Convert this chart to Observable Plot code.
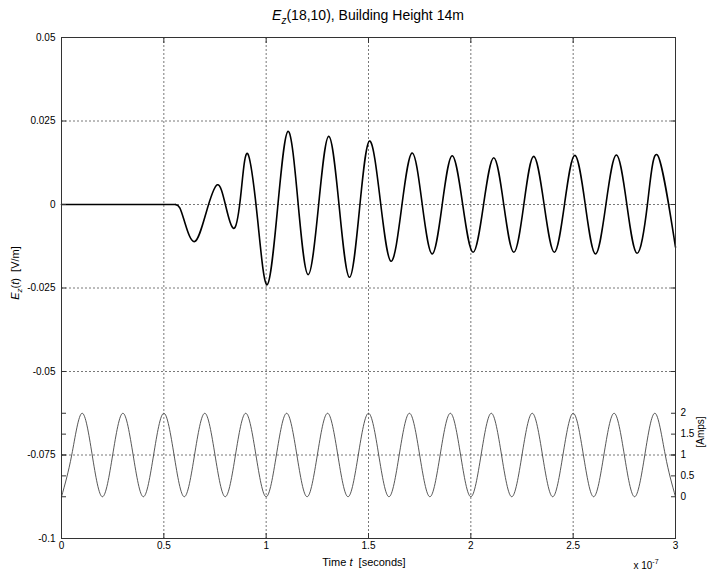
<!DOCTYPE html>
<html>
<head>
<meta charset="utf-8">
<script src="https://cdn.jsdelivr.net/npm/d3@7"></script>
<script src="https://cdn.jsdelivr.net/npm/@observablehq/plot@0.6"></script>
<style>
  body { margin: 0; background: #fff; }
  #chart svg { display: block; }
</style>
</head>
<body>
<div id="chart"></div>
<script>
// Time in units of 1e-7 s; field Ez in V/m
const quietT = [0, 0.557];
const quietE = [0, 0];

const waveT = [0.557, 0.578, 0.604, 0.651, 0.706, 0.761, 0.803, 0.845, 0.878, 0.910, 0.958,
  1.005, 1.056, 1.107, 1.156, 1.205, 1.256, 1.306, 1.357, 1.407, 1.456,
  1.505, 1.558, 1.610, 1.662, 1.713, 1.762, 1.811, 1.860, 1.909, 1.960,
  2.011, 2.062, 2.112, 2.161, 2.210, 2.259, 2.307, 2.358, 2.408, 2.458,
  2.508, 2.559, 2.609, 2.660, 2.711, 2.762, 2.812, 2.863, 2.913, 3.000];
const waveE = [0, -0.0010, -0.0057, -0.0111, -0.0026, 0.0059, -0.0006, -0.0071, 0.0040, 0.0152, -0.0044,
  -0.0240, -0.0010, 0.0219, 0.0004, -0.0210, -0.0003, 0.0204, -0.0007, -0.0218, -0.0014,
  0.0190, 0.0010, -0.0170, -0.0008, 0.0154, 0.0003, -0.0148, -0.0001, 0.0146, 0.0001,
  -0.0143, -0.0001, 0.0140, -0.0001, -0.0143, 0.0000, 0.0144, 0.0000, -0.0143, 0.0002,
  0.0147, 0.0000, -0.0148, 0.0000, 0.0148, 0.0001, -0.0146, 0.0001, 0.0147, -0.0128];

// Source current (Amps), right-hand axis
const currentT = [0, 0.05, 0.1, 0.15, 0.2, 0.25, 0.3, 0.35, 0.4, 0.45, 0.5, 0.55, 0.6, 0.65, 0.7, 0.75,
  0.8, 0.85, 0.9, 0.95, 1, 1.05, 1.1, 1.15, 1.2, 1.25, 1.3, 1.35, 1.4, 1.45, 1.5, 1.55,
  1.6, 1.65, 1.7, 1.75, 1.8, 1.85, 1.9, 1.95, 2, 2.05, 2.1, 2.15, 2.2, 2.25, 2.3, 2.35,
  2.4, 2.45, 2.5, 2.55, 2.6, 2.65, 2.7, 2.75, 2.8, 2.85, 2.9, 2.95, 3];
const currentA = [0, 1, 2, 1, 0, 1, 2, 1, 0, 1, 2, 1, 0, 1, 2, 1,
  0, 1, 2, 1, 0, 1, 2, 1, 0, 1, 2, 1, 0, 1, 2, 1,
  0, 1, 2, 1, 0, 1, 2, 1, 0, 1, 2, 1, 0, 1, 2, 1,
  0, 1, 2, 1, 0, 1, 2, 1, 0, 1, 2, 1, 0];

const xTicks = [0, 0.5, 1, 1.5, 2, 2.5, 3];
const yTicks = [0.05, 0.025, 0, -0.025, -0.05, -0.075, -0.1];
const ampTicks = [0, 0.5, 1, 1.5, 2];
const xGrid = [0.5, 1, 1.5, 2, 2.5];
const yGrid = [0.025, 0, -0.025, -0.05, -0.075];

// The current axis shares the plot area: 0 A sits at -0.0875, 1 A spans 0.0125
const ampBase = -0.0875, ampStep = 0.0125;
const ampToE = a => ampBase + ampStep * a;
const eToAmp = v => Math.round((v - ampBase) / ampStep * 10) / 10;

const quiet = quietT.map((t, i) => ({t, e: quietE[i]}));
const wave = waveT.map((t, i) => ({t, e: waveE[i]}));
const current = currentT.map((t, i) => ({t, e: ampToE(currentA[i])}));
const ampTickE = ampTicks.map(ampToE);
const allYTicks = yTicks.concat(ampTickE);

const FONT = '"Liberation Sans", Arial, Helvetica, sans-serif';
const gridStyle = {stroke: "#555", strokeWidth: 0.8, strokeDasharray: "2,2"};
const axisColor = "#333";

const chart = Plot.plot({
  width: 707,
  height: 572,
  marginTop: 37,
  marginBottom: 34,
  marginLeft: 61,
  marginRight: 32,
  style: {fontFamily: FONT, fontSize: "10px", color: "#000", background: "#fff"},
  x: {domain: [0, 3]},
  y: {domain: [-0.1, 0.05]},
  marks: [
    Plot.ruleX(xGrid, gridStyle),
    Plot.ruleY(yGrid, gridStyle),
    Plot.line(current, {x: "t", y: "e", stroke: "#444", strokeWidth: 0.9, curve: "natural"}),
    Plot.line(quiet, {x: "t", y: "e", stroke: "#000", strokeWidth: 1.6}),
    Plot.line(wave, {x: "t", y: "e", stroke: "#000", strokeWidth: 1.6, curve: "natural"}),
    Plot.frame({stroke: axisColor, strokeWidth: 1}),
    // left axis: labels and inward ticks
    Plot.axisY(yTicks, {anchor: "left", tickSize: 0, tickPadding: 6, tickFormat: d => String(d), label: null}),
    Plot.axisY(allYTicks, {anchor: "left", tickSize: 5, dx: 5, fill: "none", stroke: axisColor, label: null}),
    // right axis: current in Amps
    Plot.axisY(ampTickE, {anchor: "right", tickSize: 0, tickPadding: 5, tickFormat: v => String(eToAmp(v)), label: null}),
    Plot.axisY(allYTicks, {anchor: "right", tickSize: 5, dx: -5, fill: "none", stroke: axisColor, label: null}),
    // bottom and top axes
    Plot.axisX(xTicks, {anchor: "bottom", tickSize: 0, tickPadding: 3, tickFormat: d => String(d), label: null}),
    Plot.axisX(xTicks, {anchor: "bottom", tickSize: 5, dy: -5, fill: "none", stroke: axisColor, label: null}),
    Plot.axisX(xTicks, {anchor: "top", tickSize: 5, dy: 5, fill: "none", stroke: axisColor, label: null})
  ]
});

document.getElementById("chart").appendChild(chart);

// Titles with italic symbols, subscripts and superscripts
const svg = d3.select(chart);

const title = svg.append("text")
  .attr("x", 368).attr("y", 20)
  .attr("text-anchor", "middle")
  .attr("font-size", 14).attr("fill", "#000");
title.append("tspan").attr("font-style", "italic").text("E");
title.append("tspan").attr("font-style", "italic").attr("font-size", 10).attr("dy", 4).text("z");
title.append("tspan").attr("dy", -4).text("(18,10), Building Height 14m");

const ylab = svg.append("text")
  .attr("transform", "translate(19,273) rotate(-90)")
  .attr("text-anchor", "middle")
  .attr("font-size", 11).attr("fill", "#000");
ylab.append("tspan").attr("font-style", "italic").text("E");
ylab.append("tspan").attr("font-style", "italic").attr("font-size", 8).attr("dy", 3).text("z");
ylab.append("tspan").attr("dy", -3).text("(");
ylab.append("tspan").attr("font-style", "italic").text("t");
ylab.append("tspan").text(")\u00a0\u00a0[V/m]");

const xlab = svg.append("text")
  .attr("x", 364).attr("y", 566)
  .attr("text-anchor", "middle")
  .attr("font-size", 11).attr("fill", "#000");
xlab.append("tspan").text("Time ");
xlab.append("tspan").attr("font-style", "italic").text("t");
xlab.append("tspan").text("\u00a0\u00a0[seconds]");

const expo = svg.append("text")
  .attr("x", 646).attr("y", 569)
  .attr("font-size", 10).attr("fill", "#000");
expo.append("tspan").text("x 10");
expo.append("tspan").attr("font-size", 7).attr("dy", -5).text("-7");

svg.append("text")
  .attr("transform", "translate(704,432) rotate(-90)")
  .attr("text-anchor", "middle")
  .attr("font-size", 10).attr("fill", "#000")
  .text("[Amps]");
</script>
</body>
</html>
